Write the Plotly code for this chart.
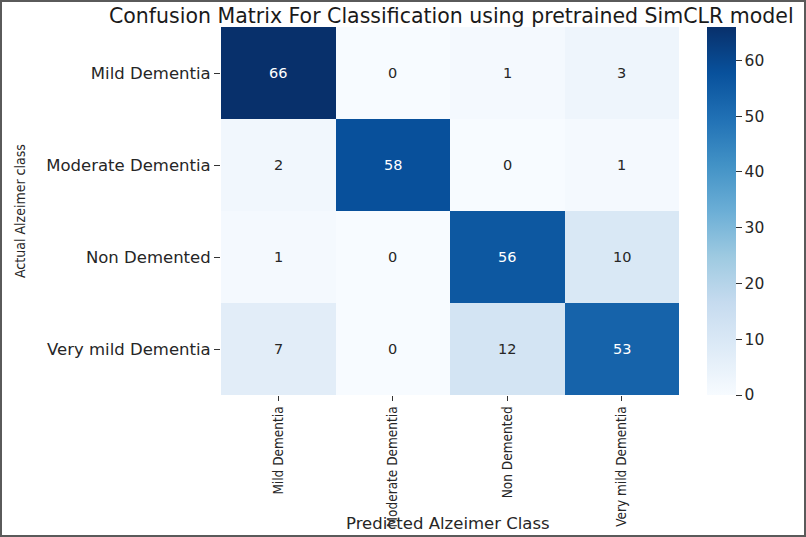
import plotly.graph_objects as go

classes = ["Mild Dementia", "Moderate Dementia", "Non Demented", "Very mild Dementia"]
matrix = [
    [66, 0, 1, 3],
    [2, 58, 0, 1],
    [1, 0, 56, 10],
    [7, 0, 12, 53],
]
title_text = "Confusion Matrix For Classification using pretrained SimCLR model"
x_title = "Predicted Alzeimer Class"
y_title = "Actual Alzeimer class"
cbar_ticks = [0, 10, 20, 30, 40, 50, 60]

vmax = max(max(r) for r in matrix)

W, H = 806, 537
ML, MR, MT, MB = 221, 127, 27, 142
PW, PH = W - ML - MR, H - MT - MB

NARROW = "DejaVu Sans Condensed, Liberation Sans Narrow, Liberation Sans, sans-serif"

def px_x(p):
    return (p - ML) / PW

def px_y(p):
    return (H - MB - p) / PH

fig = go.Figure(go.Heatmap(
    z=matrix, x=classes, y=classes,
    colorscale="Blues", zmin=0, zmax=vmax,
    showscale=True,
    colorbar=dict(
        x=px_x(707), xanchor="left", xref="paper", xpad=0,
        y=0, yanchor="bottom", len=1, lenmode="fraction", ypad=0,
        thickness=29, outlinewidth=0,
        tickvals=cbar_ticks, ticks="outside", ticklen=6, tickcolor="#333",
        tickfont=dict(family="DejaVu Sans", size=15.5, color="#262626"),
    ),
    hoverinfo="skip",
))

annotations = []
for i, row in enumerate(matrix):
    for j, v in enumerate(row):
        annotations.append(dict(
            x=classes[j], y=classes[i], text=str(v), showarrow=False,
            font=dict(family="DejaVu Sans", size=14.5,
                      color="#ffffff" if v > vmax * 0.5 else "#262626"),
        ))

annotations.append(dict(
    x=px_x(451), y=px_y(16), xref="paper", yref="paper",
    text=title_text, showarrow=False, xanchor="center", yanchor="middle",
    font=dict(family="DejaVu Sans", size=20.5, color="#1a1a1a"),
))
annotations.append(dict(
    x=px_x(448), y=px_y(523), xref="paper", yref="paper",
    text=x_title, showarrow=False, xanchor="center", yanchor="middle",
    font=dict(family="DejaVu Sans", size=16.5, color="#262626"),
))
annotations.append(dict(
    x=px_x(20), y=px_y(211), xref="paper", yref="paper",
    text=y_title, showarrow=False, textangle=-90, xanchor="center", yanchor="middle",
    font=dict(family=NARROW, size=14, color="#262626"),
))

fig.update_layout(
    width=W, height=H,
    margin=dict(l=ML, r=MR, t=MT, b=MB, pad=0, autoexpand=False),
    paper_bgcolor="white", plot_bgcolor="white",
    annotations=annotations,
    showlegend=False,
    shapes=[dict(
        type="rect", xref="paper", yref="paper",
        x0=px_x(1), x1=px_x(805), y0=px_y(536), y1=px_y(1),
        line=dict(color="#5a5a5a", width=2), fillcolor="rgba(0,0,0,0)", layer="above",
    )],
)
fig.update_xaxes(
    automargin=False,
    showgrid=False, zeroline=False, showline=False,
    ticks="outside", ticklen=5, tickcolor="#333", tickangle=-90,
    tickfont=dict(family=NARROW, size=13.5, color="#262626"),
)
fig.update_yaxes(
    automargin=False,
    autorange="reversed",
    showgrid=False, zeroline=False, showline=False,
    ticks="outside", ticklen=6, tickcolor="#333",
    tickfont=dict(family="DejaVu Sans", size=16.5, color="#262626"),
)

fig.write_html("out.html")
